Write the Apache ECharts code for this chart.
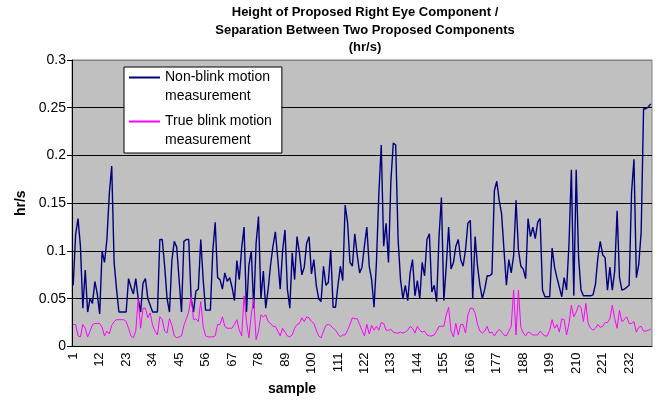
<!DOCTYPE html>
<html>
<head>
<meta charset="utf-8">
<script src="https://cdn.jsdelivr.net/npm/echarts@6/dist/echarts.min.js"></script>
<style>
    html, body { margin: 0; padding: 0; background: #fff; }
    #chart { width: 660px; height: 401px; }
</style>
</head>
<body>
<div id="chart"></div>
<script>
    // values, one per sample (1..241)
    var nonBlink = [
        0.064, 0.117, 0.134, 0.105, 0.04, 0.08, 0.036, 0.05, 0.045, 0.068,
        0.055, 0.034, 0.1, 0.088, 0.112, 0.16, 0.189, 0.088, 0.06, 0.036,
        0.036, 0.036, 0.036, 0.071, 0.062, 0.055, 0.071, 0.05, 0.036, 0.066,
        0.071, 0.05, 0.043, 0.036, 0.036, 0.036, 0.112, 0.112, 0.084, 0.05,
        0.036, 0.09, 0.11, 0.104, 0.07, 0.036, 0.11, 0.112, 0.112, 0.05,
        0.036, 0.058, 0.06, 0.112, 0.07, 0.038, 0.038, 0.038, 0.1, 0.13,
        0.072, 0.07, 0.06, 0.077, 0.068, 0.072, 0.062, 0.048, 0.09, 0.07,
        0.103, 0.125, 0.036, 0.085, 0.1, 0.04, 0.108, 0.136, 0.05, 0.079,
        0.04, 0.06, 0.085, 0.105, 0.12, 0.092, 0.06, 0.1, 0.122, 0.06,
        0.04, 0.098, 0.07, 0.115, 0.098, 0.075, 0.083, 0.108, 0.115, 0.076,
        0.091, 0.064, 0.05, 0.047, 0.084, 0.064, 0.067, 0.101, 0.041, 0.041,
        0.064, 0.084, 0.069, 0.148, 0.13, 0.088, 0.084, 0.118, 0.096, 0.077,
        0.083, 0.105, 0.125, 0.084, 0.07, 0.041, 0.088, 0.16, 0.211, 0.105,
        0.129, 0.088, 0.173, 0.213, 0.211, 0.112, 0.07, 0.05, 0.064, 0.048,
        0.077, 0.091, 0.053, 0.069, 0.05, 0.088, 0.074, 0.112, 0.118, 0.057,
        0.064, 0.047, 0.115, 0.156, 0.048, 0.084, 0.125, 0.081, 0.088, 0.105,
        0.112, 0.091, 0.084, 0.101, 0.129, 0.132, 0.05, 0.115, 0.084, 0.064,
        0.05, 0.06, 0.074, 0.074, 0.076, 0.163, 0.173, 0.153, 0.139, 0.101,
        0.064, 0.091, 0.077, 0.095, 0.153, 0.101, 0.084, 0.081, 0.071, 0.134,
        0.115, 0.125, 0.113, 0.13, 0.134, 0.059, 0.052, 0.052, 0.052, 0.103,
        0.083, 0.072, 0.062, 0.052, 0.072, 0.059, 0.107, 0.185, 0.053, 0.185,
        0.093, 0.059, 0.053, 0.053, 0.053, 0.053, 0.054, 0.065, 0.093, 0.11,
        0.096, 0.093, 0.059, 0.083, 0.059, 0.079, 0.142, 0.072, 0.059, 0.06,
        0.062, 0.064, 0.161, 0.196, 0.072, 0.086, 0.12, 0.249, 0.249, 0.251,
        0.254
    ]
    var trueBlink = [
        0.023, 0.023, 0.011, 0.01, 0.023, 0.019, 0.01, 0.016, 0.023, 0.024,
        0.024, 0.024, 0.02, 0.011, 0.016, 0.013, 0.022, 0.026, 0.028, 0.028,
        0.028, 0.028, 0.026, 0.019, 0.011, 0.009, 0.016, 0.05, 0.019, 0.04,
        0.04, 0.03, 0.035, 0.022, 0.016, 0.012, 0.031, 0.028, 0.016, 0.014,
        0.029, 0.022, 0.011, 0.009, 0.01, 0.011, 0.022, 0.029, 0.036, 0.052,
        0.028, 0.029, 0.026, 0.047, 0.021, 0.011, 0.01, 0.01, 0.01, 0.011,
        0.023, 0.023, 0.031, 0.021, 0.019, 0.019, 0.019, 0.023, 0.028, 0.017,
        0.011, 0.053, 0.026, 0.009, 0.033, 0.05, 0.007, 0.016, 0.033, 0.031,
        0.033, 0.026, 0.024, 0.021, 0.021, 0.016, 0.011, 0.019, 0.015, 0.011,
        0.01, 0.012, 0.019, 0.023, 0.024, 0.03, 0.026, 0.031, 0.03, 0.026,
        0.024, 0.017, 0.011, 0.009, 0.016, 0.022, 0.023, 0.022, 0.019, 0.017,
        0.013, 0.01, 0.012, 0.012, 0.017, 0.023, 0.03, 0.029, 0.029, 0.023,
        0.017, 0.011, 0.023, 0.013, 0.022, 0.017, 0.021, 0.017, 0.025, 0.024,
        0.017, 0.017, 0.018, 0.015, 0.014, 0.014, 0.015, 0.014, 0.015, 0.017,
        0.021, 0.019, 0.014, 0.021, 0.017, 0.015, 0.016, 0.012, 0.011, 0.011,
        0.012, 0.016, 0.021, 0.021, 0.021, 0.033, 0.041, 0.016, 0.01, 0.024,
        0.012, 0.023, 0.023, 0.014, 0.033, 0.04, 0.04, 0.035, 0.023, 0.016,
        0.014, 0.016, 0.021, 0.014, 0.015, 0.011, 0.015, 0.018, 0.015, 0.012,
        0.011, 0.016, 0.021, 0.059, 0.012, 0.059, 0.02, 0.014, 0.011, 0.015,
        0.014, 0.012, 0.012, 0.012, 0.016, 0.013, 0.011, 0.011, 0.017, 0.028,
        0.019, 0.023, 0.015, 0.029, 0.028, 0.012, 0.024, 0.043, 0.031, 0.036,
        0.043, 0.041, 0.026, 0.045, 0.024, 0.019, 0.017, 0.019, 0.023, 0.02,
        0.021, 0.025, 0.025, 0.029, 0.043, 0.029, 0.019, 0.038, 0.026, 0.028,
        0.031, 0.024, 0.024, 0.026, 0.015, 0.02, 0.021, 0.016, 0.016, 0.017,
        0.018
    ]
    var seriesNames = ['Non-blink motion\nmeasurement', 'True blink motion\nmeasurement']
    var seriesColors = ['#000080', '#ff00ff']

    var samples = []
    for (var i = 1; i <= nonBlink.length; i++) {
        samples.push(String(i))
    }

    var font = 'Liberation Sans, Arial, sans-serif'
    // legend icon: short line near the top of a box as tall as the two text lines
    var legendIcon = 'path://M0,0L0.01,0M0,8.5H31V10.5H0ZM0,38L0.01,38'

    var chart = echarts.init(document.getElementById('chart'), null, {renderer: 'canvas'})
    chart.setOption({
        animation: false,
        backgroundColor: '#fff',
        title: {
            text: 'Height of Proposed Right Eye Component /\nSeparation Between Two Proposed Components\n(hr/s)',
            left: 365,
            top: 4,
            textAlign: 'center',
            padding: 0,
            textStyle: {
                fontFamily: font,
                fontSize: 13,
                fontWeight: 'bold',
                lineHeight: 17.5,
                color: '#000'
            }
        },
        legend: {
            orient: 'vertical',
            left: 124,
            top: 67,
            padding: [1, 10, 3, 5],
            itemGap: 6,
            itemWidth: 31,
            itemHeight: 38,
            icon: legendIcon,
            backgroundColor: '#fff',
            borderColor: '#000',
            borderWidth: 1,
            borderRadius: 0,
            itemStyle: {borderWidth: 0},
            textStyle: {
                fontFamily: font,
                fontSize: 14,
                lineHeight: 19,
                color: '#000'
            },
            data: seriesNames
        },
        grid: {
            left: 72,
            right: 8,
            top: 60,
            bottom: 49,
            show: true,
            backgroundColor: '#c0c0c0',
            borderColor: '#808080',
            borderWidth: 1
        },
        xAxis: {
            type: 'category',
            data: samples,
            boundaryGap: true,
            name: 'sample',
            nameLocation: 'middle',
            nameGap: 27,
            nameTextStyle: {
                fontFamily: font,
                fontSize: 14,
                fontWeight: 'bold',
                color: '#000',
                padding: [0, 140, 0, 0]
            },
            axisLine: {lineStyle: {color: '#000', width: 1}},
            axisTick: {interval: 0, length: 4, lineStyle: {color: '#000'}},
            axisLabel: {
                interval: 10,
                rotate: 90,
                margin: 6,
                fontFamily: font,
                fontSize: 13,
                color: '#000'
            },
            splitLine: {show: false}
        },
        yAxis: {
            type: 'value',
            min: 0,
            max: 0.3,
            interval: 0.05,
            name: 'hr/s',
            nameLocation: 'middle',
            nameGap: 44,
            nameTextStyle: {
                fontFamily: font,
                fontSize: 14,
                fontWeight: 'bold',
                color: '#000'
            },
            axisLine: {show: true, lineStyle: {color: '#000', width: 1}},
            axisTick: {show: true, length: 5, lineStyle: {color: '#000'}},
            axisLabel: {
                margin: 6,
                fontFamily: font,
                fontSize: 14,
                color: '#000'
            },
            // top line stays the grey plot border
            splitLine: {lineStyle: {color: ['#000', '#000', '#000', '#000', '#000', '#000', '#808080'], width: 1}}
        },
        series: [
            {
                name: seriesNames[0],
                type: 'line',
                data: nonBlink,
                showSymbol: false,
                color: seriesColors[0],
                lineStyle: {color: seriesColors[0], width: 1.4},
                z: 3
            },
            {
                name: seriesNames[1],
                type: 'line',
                data: trueBlink,
                showSymbol: false,
                color: seriesColors[1],
                lineStyle: {color: seriesColors[1], width: 1},
                z: 4
            }
        ]
    })
</script>
</body>
</html>
